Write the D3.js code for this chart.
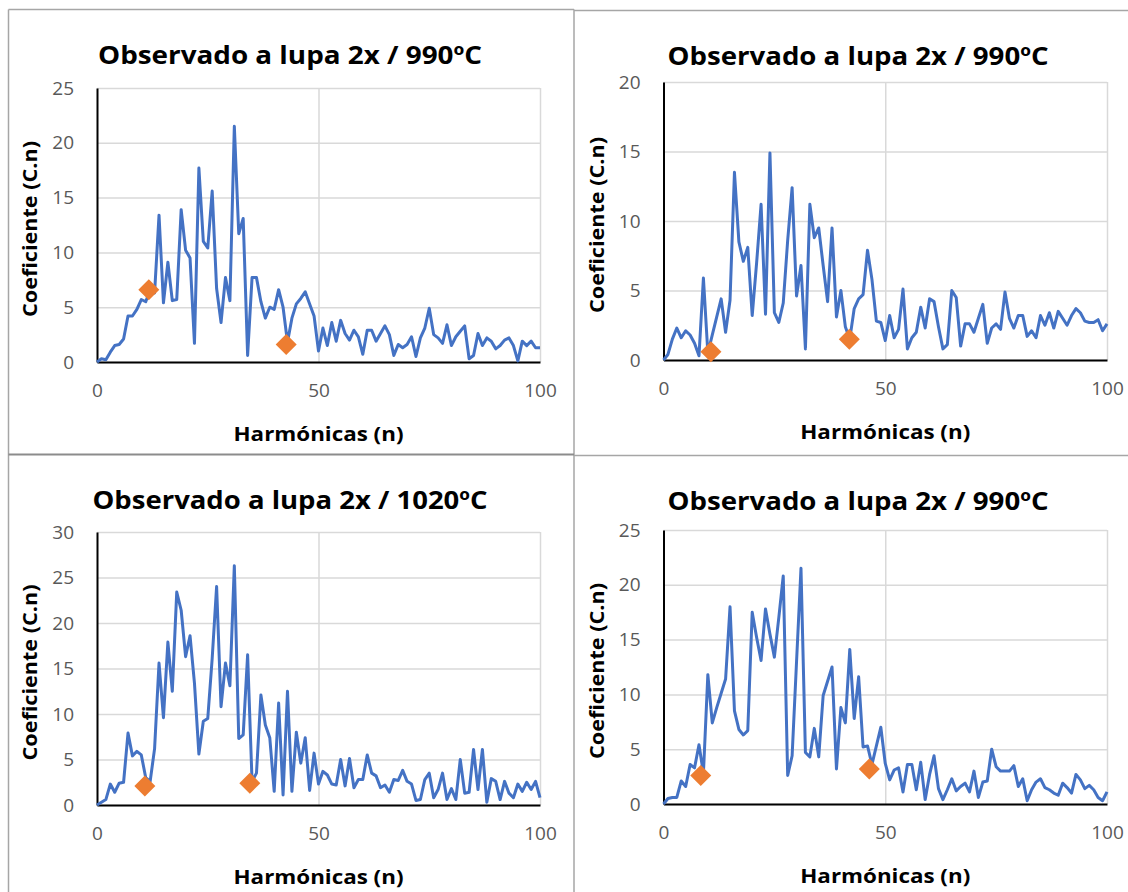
<!DOCTYPE html>
<html>
<head>
<meta charset="utf-8">
<script src="https://cdn.jsdelivr.net/npm/d3@7"></script>
<style>
  body { margin: 0; background: #fff; }
  text { font-family: "Open Sans", "Noto Sans", sans-serif; }
</style>
</head>
<body>
<div id="chart-area"></div>
<script>
// harmonic index n
var harmonics = [0,1,2,3,4,5,6,7,8,9,10,11,12,13,14,15,16,17,18,19,20,21,22,23,24,25,26,27,28,29,30,
  31,32,33,34,35,36,37,38,39,40,41,42,43,44,45,46,47,48,49,50,51,52,53,54,55,56,57,58,59,60,
  61,62,63,64,65,66,67,68,69,70,71,72,73,74,75,76,77,78,79,80,81,82,83,84,85,86,87,88,89,90,
  91,92,93,94,95,96,97,98,99,100];

// coefficients C.n per chart
var coefA = [0,0.3,0.2,0.9,1.5,1.6,2.1,4.2,4.2,4.8,5.7,5.5,6.6,6.3,13.4,5.4,9.1,5.6,5.7,13.9,10.2,
  9.5,1.7,17.7,11.0,10.4,15.6,6.7,3.6,7.7,5.6,21.5,11.7,13.1,0.6,7.7,7.7,5.5,4.0,5.0,4.8,
  6.6,5.0,1.8,4.0,5.3,5.8,6.4,5.3,4.2,1.0,3.1,1.5,3.6,1.9,3.8,2.6,2.0,2.9,2.3,0.7,
  2.9,2.9,1.9,2.6,3.3,2.5,0.6,1.6,1.3,1.6,2.3,0.5,2.2,3.1,4.9,2.5,2.2,1.7,3.4,1.5,
  2.3,2.8,3.3,0.3,0.6,2.6,1.5,2.2,1.9,1.2,1.5,2.0,2.2,1.5,0.1,1.9,1.5,1.9,1.3,1.3];

var coefB = [0,0.4,1.5,2.3,1.6,2.1,1.8,1.2,0.3,5.9,0.5,1.8,3.1,4.4,2.0,4.3,13.5,8.5,7.1,8.1,3.2,
  7.0,11.2,3.3,14.9,3.4,2.7,4.1,8.6,12.4,4.6,6.8,0.8,11.2,8.8,9.5,6.8,4.2,9.5,3.1,5.0,
  2.4,1.5,3.7,4.4,4.7,7.9,5.8,2.8,2.7,1.4,3.2,1.6,2.2,5.1,0.8,1.6,2.0,3.8,2.3,4.4,
  4.2,2.4,0.8,1.1,5.0,4.5,1.0,2.6,2.6,2.0,3.0,4.0,1.2,2.3,2.6,2.2,4.9,3.0,2.3,3.2,
  3.2,1.7,2.1,1.6,3.2,2.5,3.4,2.3,3.5,3.0,2.5,3.2,3.7,3.4,2.8,2.7,2.7,2.9,2.1,2.6];

var coefC = [0,0.3,0.6,2.3,1.4,2.4,2.5,7.9,5.4,5.9,5.5,3.0,2.6,6.2,15.6,9.6,17.9,12.5,23.4,21.4,16.3,
  18.6,13.4,5.6,9.2,9.5,16.1,24.0,10.8,15.6,13.1,26.3,7.3,7.7,16.5,2.6,3.5,12.1,8.8,7.4,1.5,
  11.2,1.1,12.5,1.5,8.0,4.6,7.4,1.6,5.7,2.3,3.7,3.3,2.3,2.2,5.0,2.1,5.1,1.9,2.8,2.8,
  5.5,3.5,3.2,1.9,2.2,1.4,2.8,2.7,3.8,2.6,2.3,0.5,0.6,2.8,3.5,0.8,1.7,3.5,0.6,1.8,
  0.6,5.0,1.3,1.4,6.1,1.7,6.1,0.3,2.9,2.6,0.6,2.6,1.3,0.8,2.3,1.5,2.5,1.7,2.6,0.8];

var coefD = [0,0.5,0.6,0.6,2.1,1.6,3.6,3.3,5.4,2.8,11.8,7.4,8.8,10.1,11.4,18.0,8.5,6.8,6.3,6.7,17.5,
  15.2,13.1,17.8,15.5,13.4,17.0,20.8,2.6,4.4,13.0,21.5,4.7,4.3,6.9,4.3,9.9,11.2,12.5,3.2,8.8,
  7.4,14.1,7.8,11.6,5.2,5.3,3.6,5.3,7.0,3.7,2.2,3.1,3.3,1.1,3.6,3.6,1.3,3.8,0.4,2.7,
  4.4,1.4,0.4,1.3,2.3,1.2,1.6,1.9,1.1,3.0,0.6,2.0,2.1,5.0,3.4,3.0,3.0,3.0,3.5,1.6,
  2.3,0.3,1.3,2.0,2.3,1.5,1.3,1.0,0.8,1.9,1.5,1.0,2.7,2.2,1.4,1.7,1.3,0.6,0.3,1.1];

// orange markers [n, C.n]
var markA = [[11.7, 6.6], [42.7, 1.6]];
var markB = [[10.7, 0.6], [41.9, 1.5]];
var markC = [[10.8, 2.1], [34.5, 2.4]];
var markD = [[8.4, 2.6], [46.4, 3.2]];

var titles = ["Observado a lupa 2x / 990ºC", "Observado a lupa 2x / 990ºC",
  "Observado a lupa 2x / 1020ºC", "Observado a lupa 2x / 990ºC"];
var titleWidths = [384, 381, 395, 381];
var yMax = [25, 20, 30, 25];
var xTicks = [0, 50, 100];

var series = [coefA, coefB, coefC, coefD];
var marks = [markA, markB, markC, markD];

// panel frames and plot areas
var panels = [
  {x0: 8.5, y0: 9.5, left: 97, right: 540, top: 88, bottom: 362},
  {x0: 574, y0: 10.5, left: 663.5, right: 1107, top: 82, bottom: 360},
  {x0: 8.5, y0: 454.5, left: 97, right: 540, top: 532, bottom: 805},
  {x0: 574, y0: 455.5, left: 663.5, right: 1107, top: 530, bottom: 804}
];

var svg = d3.select("#chart-area")
  .append("svg")
    .attr("width", 1128)
    .attr("height", 892);

// panel borders
svg.append("line").attr("x1", 8.5).attr("x2", 574).attr("y1", 9.5).attr("y2", 9.5)
  .attr("stroke", "#a6a6a6").attr("stroke-width", 1.5);
svg.append("line").attr("x1", 574).attr("x2", 1128).attr("y1", 10.5).attr("y2", 10.5)
  .attr("stroke", "#a6a6a6").attr("stroke-width", 1.5);
svg.append("line").attr("x1", 8.5).attr("x2", 8.5).attr("y1", 9.5).attr("y2", 892)
  .attr("stroke", "#a6a6a6").attr("stroke-width", 1.5);
svg.append("line").attr("x1", 574).attr("x2", 574).attr("y1", 9.5).attr("y2", 892)
  .attr("stroke", "#a6a6a6").attr("stroke-width", 1.5);
svg.append("line").attr("x1", 8.5).attr("x2", 574).attr("y1", 454.5).attr("y2", 454.5)
  .attr("stroke", "#8c8c8c").attr("stroke-width", 2);
svg.append("line").attr("x1", 574).attr("x2", 1128).attr("y1", 455.5).attr("y2", 455.5)
  .attr("stroke", "#a6a6a6").attr("stroke-width", 1.5);

panels.forEach(function(p, i) {
  var g = svg.append("g");
  var data = series[i];

  var x = d3.scaleLinear().domain([0, 100]).range([p.left, p.right]);
  var y = d3.scaleLinear().domain([0, yMax[i]]).range([p.bottom, p.top]);
  var yTicks = d3.range(0, yMax[i] + 1, 5);

  // gridlines
  g.append("g")
    .attr("transform", "translate(" + p.left + ",0)")
    .call(d3.axisLeft(y).tickValues(yTicks).tickSize(-(p.right - p.left)).tickFormat(""))
    .call(function(s) { s.select(".domain").remove(); })
    .selectAll("line").attr("stroke", "#d9d9d9").attr("stroke-width", 1.5);

  g.append("g")
    .attr("transform", "translate(0," + p.bottom + ")")
    .call(d3.axisBottom(x).tickValues([50, 100]).tickSize(-(p.bottom - p.top)).tickFormat(""))
    .call(function(s) { s.select(".domain").remove(); })
    .selectAll("line").attr("stroke", "#d9d9d9").attr("stroke-width", 1.5);

  // axes with labels
  var yAx = g.append("g")
    .attr("transform", "translate(" + p.left + ",0)")
    .call(d3.axisLeft(y).tickValues(yTicks).tickSize(0).tickPadding(23));
  yAx.select(".domain").attr("stroke", "#000").attr("stroke-width", 2);
  yAx.selectAll("text").attr("font-size", "19px").attr("fill", "#595959")
    .style("font-family", "'Open Sans', sans-serif");

  var xAx = g.append("g")
    .attr("transform", "translate(0," + p.bottom + ")")
    .call(d3.axisBottom(x).tickValues(xTicks).tickSize(0).tickPadding(22));
  xAx.select(".domain").attr("stroke", "#000").attr("stroke-width", 2);
  xAx.selectAll("text").attr("font-size", "19px").attr("fill", "#595959")
    .style("font-family", "'Open Sans', sans-serif");

  // series line
  var line = d3.line()
    .x(function(d, k) { return x(harmonics[k]); })
    .y(function(d) { return y(d); });

  g.append("path")
    .datum(data)
    .attr("d", line)
    .attr("fill", "none")
    .attr("stroke", "#4472c4")
    .attr("stroke-width", 3)
    .attr("stroke-linejoin", "round");

  // diamond markers
  g.selectAll(".mark")
    .data(marks[i])
    .enter().append("path")
      .attr("class", "mark")
      .attr("transform", function(d) { return "translate(" + x(d[0]) + "," + y(d[1]) + ")"; })
      .attr("d", "M0,-10.5L10.5,0L0,10.5L-10.5,0Z")
      .attr("fill", "#ed7d31");

  // title
  g.append("text")
    .attr("x", p.x0 + (i % 2 === 0 ? 281.5 : 284))
    .attr("y", p.y0 + 54)
    .attr("text-anchor", "middle")
    .attr("font-size", "25px")
    .attr("font-weight", "bold")
    .attr("fill", "#000")
    .attr("textLength", titleWidths[i])
    .attr("lengthAdjust", "spacingAndGlyphs")
    .text(titles[i]);

  // x label
  g.append("text")
    .attr("x", (p.left + p.right) / 2)
    .attr("y", p.bottom + 79)
    .attr("text-anchor", "middle")
    .attr("font-size", "20px")
    .attr("font-weight", "bold")
    .attr("fill", "#000")
    .attr("textLength", 170)
    .attr("lengthAdjust", "spacingAndGlyphs")
    .text("Harmónicas (n)");

  // y label
  g.append("text")
    .attr("transform", "translate(" + (p.left - 60) + "," + ((p.top + p.bottom) / 2 + 4) + ") rotate(-90)")
    .attr("text-anchor", "middle")
    .attr("font-size", "20px")
    .attr("font-weight", "bold")
    .attr("fill", "#000")
    .attr("textLength", 176)
    .attr("lengthAdjust", "spacingAndGlyphs")
    .text("Coeficiente (C.n)");
});
</script>
</body>
</html>
